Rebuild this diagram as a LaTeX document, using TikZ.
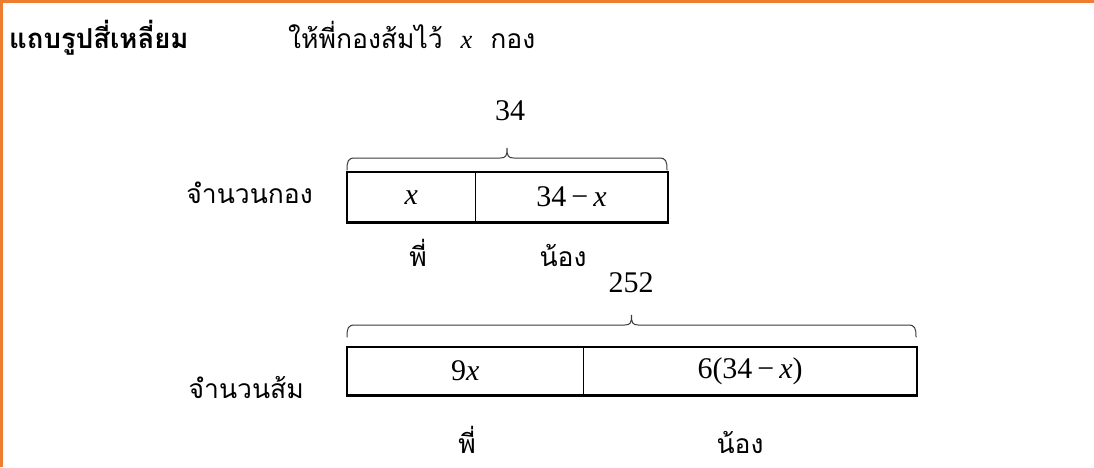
\documentclass[tikz,border=0pt]{standalone}
\usepackage{fontspec}
\setmainfont{Liberation Serif}
\newfontfamily\thaifont[Script=Thai]{Loma}
\usepackage{xcolor}
\usetikzlibrary{positioning,calc}
\definecolor{Frame}{HTML}{ED7D31}
\definecolor{BraceG}{HTML}{3A3A3A}

\newcommand\vx{{\rmfamily\itshape x}}
% brace over a bar: left x, right x, y of the two ends
\newcommand\barbrace[3]{%
  \draw[brc] (#1,#3) .. controls (#1,#3-9) and (#1+1,#3-12) .. (#1+8,#3-12)
    -- ({(#1+#2)/2-7},#3-12) .. controls ({(#1+#2)/2-1},#3-12) and ({(#1+#2)/2},#3-14) .. ({(#1+#2)/2},#3-22)
    .. controls ({(#1+#2)/2},#3-14) and ({(#1+#2)/2+1},#3-12) .. ({(#1+#2)/2+7},#3-12)
    -- (#2-8,#3-12) .. controls (#2-1,#3-12) and (#2,#3-9) .. (#2,#3);}

\begin{document}
\begin{tikzpicture}[x=1pt,y=-1pt,
    th/.style={font=\thaifont\fontsize{26.5}{31}\selectfont,inner sep=0pt,anchor=base},
    thb/.style={font=\thaifont\bfseries\fontsize{27.5}{32}\selectfont,inner sep=0pt,anchor=base west},
    num/.style={font=\fontsize{30}{34}\selectfont,inner sep=0pt,anchor=base},
    cell/.style={minimum height=50pt,inner sep=0pt,font=\fontsize{30}{34}\selectfont},
    bar/.style={draw=black,line width=2.5pt},
    sep/.style={draw=black,line width=1pt},
    brc/.style={draw=BraceG,line width=1pt,line cap=round},
    frame/.style={draw=Frame,line width=3pt}]
  \useasboundingbox (0,0) rectangle (1094,467);
  \draw[frame] (1.5,467) -- (1.5,1.5) -- (1094,1.5);

  \node[thb] (title) at (9,48) {แถบรูปสี่เหลี่ยม};
  \node[th,anchor=base west] (given) at (288,48) {ให้พี่กองส้มไว้\ \ \vx\ \ กอง};

  % bar for piles
  \node[cell,minimum width=128pt,anchor=north west] (p1) at (347,172) {\vx};
  \node[cell,minimum width=192pt,right=0pt of p1] (p2) {34\,−\,\vx};
  \draw[sep] (p1.north east) -- (p1.south east);
  \draw[bar] (p1.north west) rectangle (p2.south east);
  \barbrace{347}{667}{170}
  \node[num] (tot1) at (510,120) {34};
  \node[th,anchor=base east] (row1) at (313,203) {จำนวนกอง};
  \node[th] (el1) at (418,266) {พี่};
  \node[th] (yo1) at (563,266) {น้อง};

  % bar for oranges
  \node[cell,minimum width=236pt,minimum height=48pt,anchor=north west] (q1) at (347,347) {9\vx};
  \node[cell,minimum width=333pt,minimum height=48pt,right=0pt of q1] (q2) {6(34\,−\,\vx)};
  \draw[sep] (q1.north east) -- (q1.south east);
  \draw[bar] (q1.north west) rectangle (q2.south east);
  \barbrace{347}{916}{337}
  \node[num] (tot2) at (631,292) {252};
  \node[th,anchor=base east] (row2) at (304,398) {จำนวนส้ม};
  \node[th] (el2) at (467,453) {พี่};
  \node[th] (yo2) at (740,453) {น้อง};
\end{tikzpicture}
\end{document}
